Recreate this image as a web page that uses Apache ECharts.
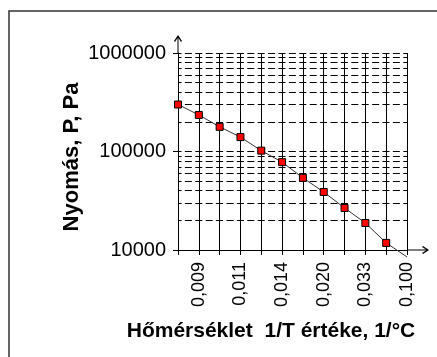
<!DOCTYPE html>
<html>
<head>
<meta charset="utf-8">
<script src="https://cdn.jsdelivr.net/npm/echarts@6/dist/echarts.min.js"></script>
<style>
html,body{margin:0;padding:0;background:#fff;}
#c{width:437px;height:357px;}
</style>
</head>
<body>
<div id="c"></div>
<script>
// 1/T category labels (only every second one is printed on the axis)
const xCategories = ['0,008','0,009','0,010','0,011','0,013','0,014','0,017','0,020','0,025','0,033','0,050','0,100'];
// Pressure values, Pa
const pressure = [300000, 235000, 178000, 140000, 102000, 78000, 54000, 38800, 26700, 18800, 11800];
// extension of the line past the last point (runs out just below the axis)
const lineEnd = 8500;
const yTickLabels = ['10000', '100000', '1000000'];
const yMinorTicks = [20000,30000,40000,50000,60000,70000,80000,90000,
                     200000,300000,400000,500000,600000,700000,800000,900000];
const xTitle = 'Hőmérséklet  1/T értéke, 1/°C';
const yTitle = 'Nyomás, P, Pa';

const FONT = '"Liberation Sans", Arial, sans-serif';
const dash = { color: '#000', width: 1, type: [7, 3.4], dashOffset: 3.5 };

const seriesData = pressure.map(v => v).concat([{ value: lineEnd, symbol: 'none' }]);

const chart = echarts.init(document.getElementById('c'), null, { renderer: 'canvas' });
chart.setOption({
  animation: false,
  backgroundColor: '#fff',
  grid: { left: 178, right: 30, top: 53, bottom: 107, containLabel: false },
  xAxis: {
    type: 'category',
    data: xCategories,
    boundaryGap: false,
    axisLine: {
      show: true,
      lineStyle: { color: '#000', width: 1 },
      symbol: ['none', 'path://M4,0 L8,6 L7,7 L4.5,3 L4.5,22 L3.5,22 L3.5,3 L1,7 L0,6 Z'],
      symbolSize: [8, 22],
      symbolOffset: [0, 11]
    },
    axisTick: { show: true, interval: 0, length: 5, lineStyle: { color: '#000' } },
    axisLabel: {
      interval: (i) => i % 2 === 1,
      rotate: 90,
      margin: 12,
      fontFamily: FONT,
      fontSize: 18,
      color: '#000'
    },
    splitLine: { show: true, interval: 0, lineStyle: { color: '#000', width: 1 } }
  },
  yAxis: {
    type: 'log',
    logBase: 10,
    min: 10000,
    max: 1000000,
    axisLine: {
      show: true,
      lineStyle: { color: '#000', width: 1 },
      symbol: ['none', 'path://M4,0 L8,6 L7,7 L4.5,3 L4.5,18 L3.5,18 L3.5,3 L1,7 L0,6 Z'],
      symbolSize: [8, 18],
      symbolOffset: [0, 9]
    },
    axisTick: { show: true, length: 5, lineStyle: { color: '#000' } },
    axisLabel: {
      margin: 12,
      fontFamily: FONT,
      fontSize: 20,
      color: '#000',
      formatter: (v) => yTickLabels.find(s => Number(s) === Math.round(v)) || ''
    },
    splitLine: { show: true, lineStyle: dash }
  },
  series: [{
    type: 'line',
    data: seriesData,
    clip: false,
    symbol: 'rect',
    symbolSize: 7,
    itemStyle: { color: '#ff0000', borderColor: '#000', borderWidth: 1 },
    lineStyle: { color: '#333', width: 1 },
    markLine: {
      silent: true,
      symbol: 'none',
      label: { show: false },
      lineStyle: dash,
      emphasis: { disabled: true },
      data: yMinorTicks.map(v => ({ yAxis: v }))
    },
    z: 5
  }],
  graphic: [
    {
      type: 'rect',
      shape: { x: 9, y: 11, width: 440, height: 360 },
      style: { fill: 'none', stroke: '#333', lineWidth: 1.5 },
      silent: true
    },
    {
      type: 'text',
      x: 271, y: 331,
      style: {
        text: xTitle, fontFamily: FONT, fontSize: 21, fontWeight: 'bold',
        fill: '#000', align: 'center', verticalAlign: 'middle'
      }
    },
    {
      type: 'text',
      x: 72, y: 157,
      rotation: Math.PI / 2,
      style: {
        text: yTitle, fontFamily: FONT, fontSize: 22, fontWeight: 'bold',
        fill: '#000', align: 'center', verticalAlign: 'middle'
      }
    }
  ]
});
</script>
</body>
</html>
